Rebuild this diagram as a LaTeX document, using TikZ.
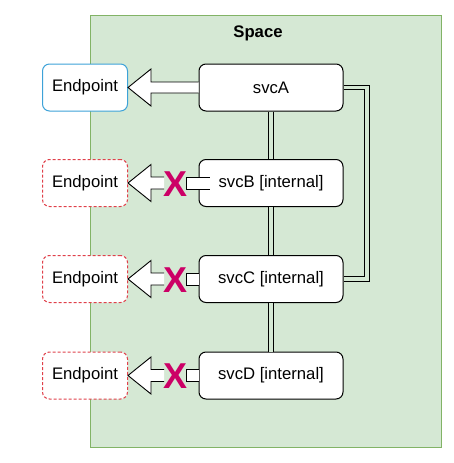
\documentclass[tikz,border=0pt]{standalone}
\usepackage{fontspec}
\setmainfont{Liberation Sans}
\usetikzlibrary{calc}
\definecolor{spacefill}{HTML}{D5E8D4}
\definecolor{spacedraw}{HTML}{82B366}
\definecolor{epblue}{HTML}{3DA2D8}
\definecolor{epred}{HTML}{E0404A}
\definecolor{xmag}{HTML}{CC0066}
\begin{document}
\begin{tikzpicture}[x=1pt,y=-1pt,
  txt/.style={font=\fontsize{16.7}{20}\selectfont},
  svcbox/.style={txt,draw=black,fill=white,line width=1pt,rounded corners=7pt,minimum width=144pt,minimum height=47pt,inner sep=0pt},
  epbox/.style={txt,fill=white,line width=1pt,rounded corners=7pt,minimum width=85pt,minimum height=47pt,inner sep=0pt},
  eppub/.style={epbox,draw=epblue},
  epint/.style={epbox,draw=epred,dash pattern=on 3pt off 2pt},
  linkline/.style={draw=black,line width=0.9pt,double=spacefill,double distance=3.6pt},
  blockarrow/.style={draw=black,fill=white,line width=0.9pt,line join=miter},
  xmark/.style={text=xmag,font=\fontsize{36}{36}\bfseries\selectfont,inner sep=0pt}
]
\useasboundingbox (0,0) rectangle (454,463);
\node[draw=spacedraw,fill=spacefill,line width=1pt,minimum width=351pt,minimum height=432pt,inner sep=0pt] (space) at (265.5,231) {};
\node[txt,font=\fontsize{16.7}{20}\bfseries\selectfont] (title) at (258,33) {Space};

\node[svcbox] (svcA) at (271,87.5) {svcA};
\node[svcbox] (svcB) at (271,183) {svcB [internal]};
\node[svcbox] (svcC) at (271,279) {svcC [internal]};
\node[svcbox] (svcD) at (271,375.5) {svcD [internal]};

\node[eppub] (epA) at (85,87.5) {Endpoint};
\node[epint] (epB) at (85,183) {Endpoint};
\node[epint] (epC) at (85,279) {Endpoint};
\node[epint] (epD) at (85,375.5) {Endpoint};

% links
\draw[linkline] (svcA.south) -- (svcB.north);
\draw[linkline] (svcB.south) -- (svcC.north);
\draw[linkline] (svcC.south) -- (svcD.north);
\draw[linkline] (svcA.east) -- ++(23.5,0) |- (svcC.east);

% block arrow A (full)
\draw[blockarrow] (svcA.west) ++(0,-5.5) -- ($(epA.east)+(23,-5.5)$) -- ($(epA.east)+(23,-18.5)$)
  -- (epA.east) -- ($(epA.east)+(23,18.5)$) -- ($(epA.east)+(23,5.5)$) -- ($(svcA.west)+(0,5.5)$);

% broken arrows
\foreach \s/\e/\r in {svcB/epB/11, svcC/epC/0, svcD/epD/0}{
  \draw[blockarrow] ($(\e.east)+(36,-6)$) -- ($(\e.east)+(23,-6)$) -- ($(\e.east)+(23,-18.5)$)
    -- (\e.east) -- ($(\e.east)+(23,18.5)$) -- ($(\e.east)+(23,6)$) -- ($(\e.east)+(36,6)$);
  \draw[blockarrow] ($(\s.west)+(\r,-6)$) -- ($(\s.west)+(-12,-6)$) -- ($(\s.west)+(-12,6)$) -- ($(\s.west)+(\r,6)$);
}
\node[xmark] (xB) at ($(epB.east)+(48,1)$) {X};
\node[xmark] (xC) at ($(epC.east)+(48,1)$) {X};
\node[xmark] (xD) at ($(epD.east)+(48,1)$) {X};
\end{tikzpicture}
\end{document}
